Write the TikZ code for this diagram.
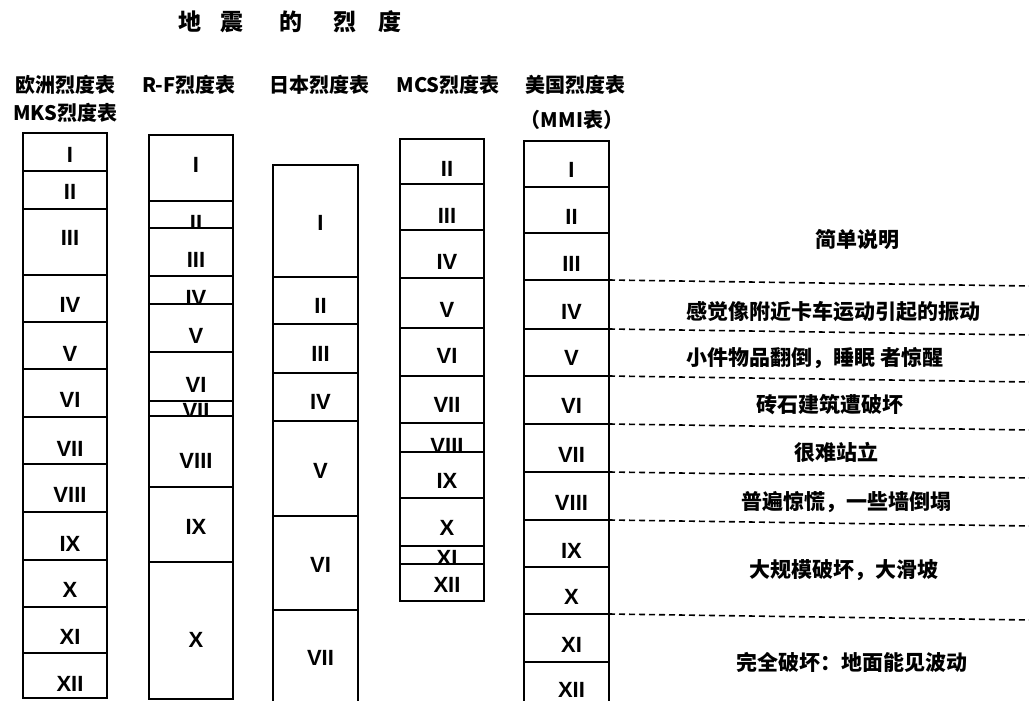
\documentclass[tikz,border=0pt]{standalone}
\usepackage{fontspec}
\newfontfamily\cjk{Noto Sans CJK SC}
\newfontfamily\romf{Liberation Sans}
\tikzset{
  cellbox/.style={draw, fill=white, line width=2pt, inner sep=0pt, outer sep=0pt},
  numtext/.style={font=\romf\bfseries\fontsize{22}{22}\selectfont, inner sep=0pt},
  headtext/.style={font=\cjk\bfseries\fontsize{20}{20}\selectfont, inner sep=0pt},
  desctext/.style={font=\cjk\bfseries\fontsize{21}{21}\selectfont, inner sep=0pt},
  titletext/.style={font=\cjk\bfseries\fontsize{23}{23}\selectfont, inner sep=0pt},
  dashline/.style={line width=1.6pt, dash pattern=on 6pt off 4pt},
}
% name, x-left, x-right, y-top, y-bottom, label, label y
\newcommand\mycell[7]{%
  \node[cellbox, minimum width={(#3-#2)*1pt}, minimum height={(#5-#4)*1pt}] (#1) at ({(#2+#3)/2},{(#4+#5)/2}) {};
  \node[numtext] (#1l) at ({(#2+#3)/2+5},#7) {#6};
}
\begin{document}
\begin{tikzpicture}[x=1pt,y=-1pt]
\useasboundingbox[fill=white] (0,0) rectangle (1029,701);

% title
\node[titletext] (title) at (290,22) {地\hspace{19pt}震\hspace{36pt}的\hspace{31pt}烈\hspace{22pt}度};

% headers
\node[headtext] (h1a) at (66,85) {欧洲烈度表};
\node[headtext] (h1b) at (65,113) {MKS烈度表};
\node[headtext] (h2) at (189,85) {R-F烈度表};
\node[headtext] (h3) at (319,85) {日本烈度表};
\node[headtext] (h4) at (448,85) {MCS烈度表};
\node[headtext] (h5a) at (575,85) {美国烈度表};
\node[headtext] (h5b) at (572,120) {（MMI表）};

% column 1: European MKS
\mycell{a1}{23}{107}{133}{171}{I}{155}
\mycell{a2}{23}{107}{171}{209}{II}{192}
\mycell{a3}{23}{107}{209}{275}{III}{238}
\mycell{a4}{23}{107}{275}{322}{IV}{305}
\mycell{a5}{23}{107}{322}{369}{V}{354}
\mycell{a6}{23}{107}{369}{417}{VI}{400}
\mycell{a7}{23}{107}{417}{464}{VII}{449}
\mycell{a8}{23}{107}{464}{512}{VIII}{495}
\mycell{a9}{23}{107}{512}{560}{IX}{544}
\mycell{a10}{23}{107}{560}{607}{X}{590}
\mycell{a11}{23}{107}{607}{653}{XI}{637}
\mycell{a12}{23}{107}{653}{698}{XII}{684}

% column 2: R-F
\mycell{b1}{149}{233}{135}{201}{I}{165}
\mycell{b2}{149}{233}{201}{228}{II}{223}
\mycell{b3}{149}{233}{228}{276}{III}{260}
\mycell{b4}{149}{233}{276}{304}{IV}{298}
\mycell{b5}{149}{233}{304}{352}{V}{336}
\mycell{b6}{149}{233}{352}{401}{VI}{385}
\mycell{b7}{149}{233}{401}{416}{VII}{411}
\mycell{b8}{149}{233}{416}{487}{VIII}{461}
\mycell{b9}{149}{233}{487}{562}{IX}{527}
\mycell{b10}{149}{233}{562}{699}{X}{640}

% column 3: Japan
\mycell{c1}{273}{358}{165}{277}{I}{223}
\mycell{c2}{273}{358}{277}{324}{II}{306}
\mycell{c3}{273}{358}{324}{373}{III}{354}
\mycell{c4}{273}{358}{373}{421}{IV}{402}
\mycell{c5}{273}{358}{421}{516}{V}{471}
\mycell{c6}{273}{358}{516}{610}{VI}{565}
\mycell{c7}{273}{358}{610}{712}{VII}{658}

% column 4: MCS
\mycell{d1}{400}{484}{139}{184}{II}{169}
\mycell{d2}{400}{484}{184}{230}{III}{216}
\mycell{d3}{400}{484}{230}{278}{IV}{262}
\mycell{d4}{400}{484}{278}{328}{V}{310}
\mycell{d5}{400}{484}{328}{376}{VI}{356}
\mycell{d6}{400}{484}{376}{423}{VII}{405}
\mycell{d7}{400}{484}{423}{452}{VIII}{446}
\mycell{d8}{400}{484}{452}{498}{IX}{481}
\mycell{d9}{400}{484}{498}{546}{X}{528}
\mycell{d10}{400}{484}{546}{564}{XI}{558}
\mycell{d11}{400}{484}{564}{601}{XII}{585}

% column 5: MMI
\mycell{e1}{524}{609}{141}{187}{I}{170}
\mycell{e2}{524}{609}{187}{233}{II}{217}
\mycell{e3}{524}{609}{233}{280}{III}{264}
\mycell{e4}{524}{609}{280}{329}{IV}{312}
\mycell{e5}{524}{609}{329}{376}{V}{358}
\mycell{e6}{524}{609}{376}{424}{VI}{406}
\mycell{e7}{524}{609}{424}{472}{VII}{455}
\mycell{e8}{524}{609}{472}{520}{VIII}{503}
\mycell{e9}{524}{609}{520}{567}{IX}{551}
\mycell{e10}{524}{609}{567}{614}{X}{597}
\mycell{e11}{524}{609}{614}{662}{XI}{645}
\mycell{e12}{524}{609}{662}{712}{XII}{690}

% dashed separators
\coordinate (r4) at (1029,286);
\coordinate (r5) at (1029,335);
\coordinate (r6) at (1029,382);
\coordinate (r7) at (1029,430);
\coordinate (r8) at (1029,478);
\coordinate (r9) at (1029,526);
\coordinate (r11) at (1029,620);
\draw[dashline] (e4.north east) -- (r4);
\draw[dashline] (e5.north east) -- (r5);
\draw[dashline] (e6.north east) -- (r6);
\draw[dashline] (e7.north east) -- (r7);
\draw[dashline] (e8.north east) -- (r8);
\draw[dashline] (e9.north east) -- (r9);
\draw[dashline] (e11.north east) -- (r11);

% descriptions
\node[desctext] (t0) at (857,240) {简单说明};
\node[desctext] (t4) at (833,312) {感觉像附近卡车运动引起的振动};
\node[desctext] (t5) at (815,358) {小件物品翻倒，睡眠 者惊醒};
\node[desctext] (t6) at (830,405) {砖石建筑遭破坏};
\node[desctext] (t7) at (836,452) {很难站立};
\node[desctext] (t8) at (846,502) {普遍惊慌，一些墙倒塌};
\node[desctext] (t9) at (844,570) {大规模破坏，大滑坡};
\node[desctext] (t11) at (852,662) {完全破坏：地面能见波动};
\end{tikzpicture}
\end{document}
